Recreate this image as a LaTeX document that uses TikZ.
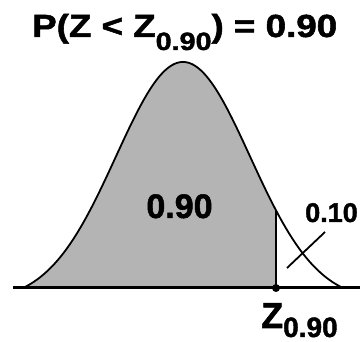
\documentclass[tikz,border=0pt]{standalone}
\usepackage{fontspec}
\setmainfont{Liberation Sans}[BoldFeatures={FakeBold=1.5}]
\usepackage{graphicx}
\definecolor{areagray}{RGB}{180,180,180}
\tikzset{
  declare function={h(\x)=54+226*(exp(-((\x-183)/67)^2/2)-0.058)/0.942;},
  lbl/.style={inner sep=0pt, font=\bfseries},
  curve/.style={line width=1.8pt, black},
  axisline/.style={line width=3pt, black},
  cutline/.style={line width=2.4pt, black},
  leader/.style={line width=1.8pt, black}
}
\begin{document}
\begin{tikzpicture}[x=1pt,y=1pt]
\useasboundingbox (0,0) rectangle (360,342);
% shaded area
\fill[areagray] plot[domain=23:276, samples=120] (\x,{h(\x)}) -- (276,54) -- cycle;
% curve
\draw[curve] plot[domain=23:343, samples=200] (\x,{h(\x)});
% axis
\coordinate (axL) at (13,54);
\coordinate (axR) at (360,54);
\draw[axisline] (axL) -- (axR);
% cut line
\coordinate (zdot) at (276,54);
\coordinate (ztop) at (276,{h(276)});
\draw[cutline] (zdot) -- (ztop);
\fill (zdot) circle (4);
% leader
\coordinate (ldA) at (287,74);
\coordinate (ldB) at (325,110);
\draw[leader] (ldA) -- (ldB);
% texts
\node[lbl, anchor=base west] (title) at (32,305)
  {\resizebox{305pt}{\height}{\fontsize{32}{32}\selectfont P(Z < Z\raisebox{-13pt}{\fontsize{25}{25}\selectfont 0.90}) = 0.90}};
\node[lbl, anchor=base] (mid) at (179.5,124) {\fontsize{34}{34}\selectfont 0.90};
\node[lbl, anchor=base] (tail) at (331.5,120) {\fontsize{27}{27}\selectfont 0.10};
\node[lbl, anchor=base west] (zlab) at (261,14)
  {\fontsize{36}{36}\selectfont Z\raisebox{-9pt}{\fontsize{28}{28}\selectfont 0.90}};
\end{tikzpicture}
\end{document}
